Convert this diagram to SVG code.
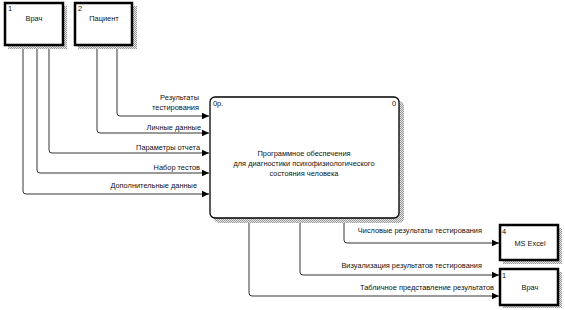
<svg xmlns="http://www.w3.org/2000/svg" width="565" height="310" viewBox="0 0 565 310">
<defs>
<pattern id="hatch" width="2" height="2" patternUnits="userSpaceOnUse">
<rect width="2" height="2" fill="#e6e6e6"/>
<rect width="1" height="1" fill="#9a9a9a"/>
<rect x="1" y="1" width="1" height="1" fill="#9a9a9a"/>
</pattern>
<marker id="arr" markerWidth="8" markerHeight="8" refX="7" refY="4" orient="auto" markerUnits="userSpaceOnUse">
<path d="M0,0.8 L7,4 L0,7.2 Z" fill="#000"/>
</marker>
<style>
text{font-family:"Liberation Sans",Arial,sans-serif;font-size:7.4px;fill:#111}
.box{fill:#fff;stroke:#000;stroke-width:2.5}
.shadow{fill:url(#hatch)}
.c{fill:none;stroke:#000;stroke-width:0.8}
.lbl{text-anchor:end}
.mid{text-anchor:middle}
</style>
</defs>
<rect width="565" height="310" fill="#fff"/>

<g id="connectors">
<path class="c" d="M117,45 V113 Q117,116 120,116 H209" marker-end="url(#arr)"/>
<path class="c" d="M97,45 V130 Q97,133 100,133 H209" marker-end="url(#arr)"/>
<path class="c" d="M49,45 V150 Q49,153 52,153 H209" marker-end="url(#arr)"/>
<path class="c" d="M37,45 V170 Q37,173 40,173 H209" marker-end="url(#arr)"/>
<path class="c" d="M23,45 V191 Q23,194 26,194 H209" marker-end="url(#arr)"/>
<path class="c" d="M344,218 V240 Q344,243 347,243 H499" marker-end="url(#arr)"/>
<path class="c" d="M300,218 V272 Q300,275 303,275 H499" marker-end="url(#arr)"/>
<path class="c" d="M249,218 V293 Q249,296 252,296 H499" marker-end="url(#arr)"/>
<text class="lbl" x="199" y="100">Результаты</text>
<text class="lbl" x="199" y="110">тестирования</text>
<text class="lbl" x="201" y="130">Личные данные</text>
<text class="lbl" x="200" y="150">Параметры отчета</text>
<text class="lbl" x="200" y="170">Набор тестов</text>
<text class="lbl" x="197" y="188">Дополнительные данные</text>
<text class="lbl" x="482" y="233">Числовые результаты тестирования</text>
<text class="lbl" x="482" y="268">Визуализация результатов тестирования</text>
<text class="lbl" x="494" y="290">Табличное представление результатов</text>
</g>

<g id="node-vrach-top">
<rect class="shadow" x="8" y="6" width="59" height="43"/>
<rect class="box" x="5" y="3" width="58" height="42"/>
<text x="8" y="11">1</text>
<text class="mid" x="34" y="21">Врач</text>
</g>

<g id="node-patient">
<rect class="shadow" x="78" y="6" width="59" height="43"/>
<rect class="box" x="75" y="3" width="57" height="42"/>
<text x="78" y="11">2</text>
<text class="mid" x="104" y="21">Пациент</text>
</g>

<g id="node-main">
<rect class="shadow" x="214" y="101" width="190" height="122" rx="5"/>
<rect x="210" y="97" width="189" height="121" rx="5" fill="#fff" stroke="#000" stroke-width="1.3"/>
<text x="213" y="106">0р.</text>
<text class="lbl" x="396" y="106">0</text>
<text class="mid" x="304" y="156">Программное обеспечения</text>
<text class="mid" x="304" y="166">для диагностики психофизиологического</text>
<text class="mid" x="304" y="176">состояния человека</text>
</g>

<g id="node-excel">
<rect class="shadow" x="503" y="228" width="59" height="36"/>
<rect class="box" x="500" y="225" width="58" height="35"/>
<text x="502" y="234">4</text>
<text class="mid" x="530" y="246">MS Excel</text>
</g>

<g id="node-vrach-out">
<rect class="shadow" x="503" y="272" width="59" height="36"/>
<rect class="box" x="500" y="269" width="58" height="36"/>
<text x="502" y="278">1</text>
<text class="mid" x="530" y="290">Врач</text>
</g>
</svg>
